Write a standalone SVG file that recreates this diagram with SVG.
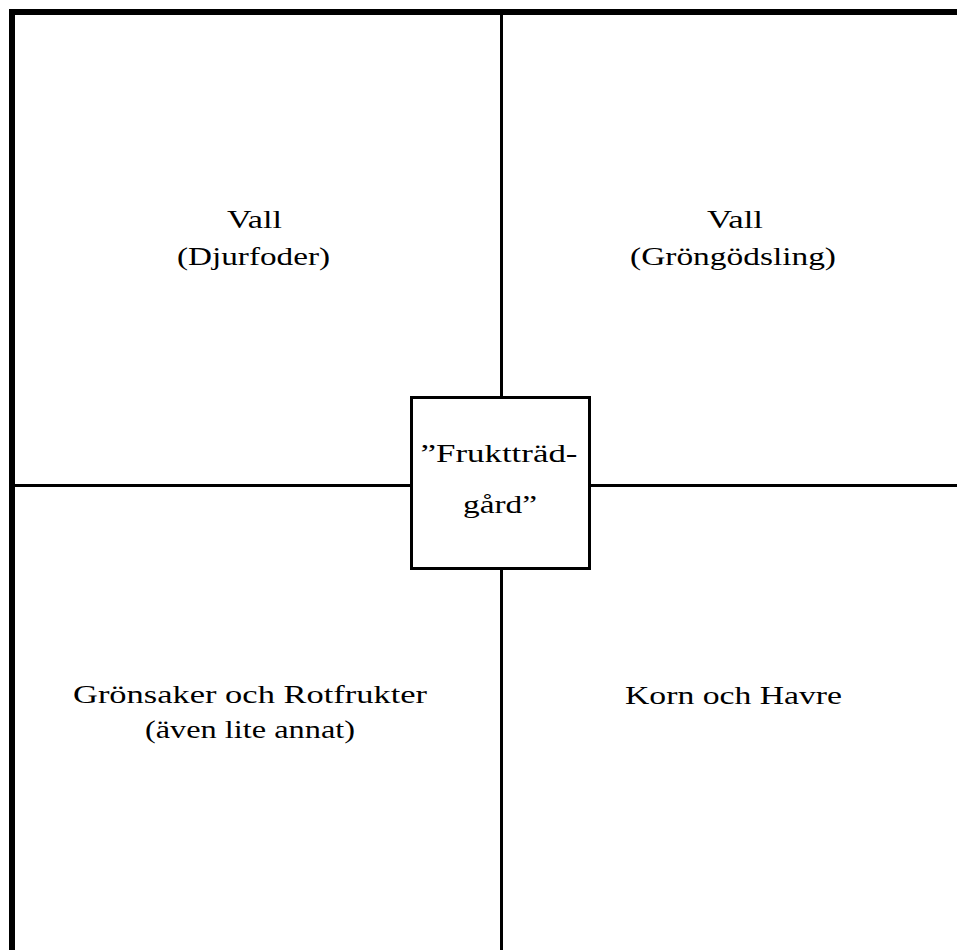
<svg xmlns="http://www.w3.org/2000/svg" width="957" height="950" viewBox="0 0 957 950">
<style>
.t{font-family:"Liberation Serif","Times New Roman",serif;font-size:25px;fill:#000;text-anchor:middle}
.ln{stroke:#000;stroke-width:3;fill:none}
.bd{stroke:#000;stroke-width:6;fill:none}
</style>
<rect width="957" height="950" fill="#fff"/>
<g id="connectors">
<path class="bd" d="M12,950 V12 H957"/>
<path class="ln" d="M501.5,15 V397.5 M501.5,568.5 V950"/>
<path class="ln" d="M15,485.5 H411.5 M589.5,485.5 H957"/>
</g>
<g id="center">
<rect class="ln" x="411.5" y="397.5" width="178" height="171" fill="#fff"/>
<text class="t" x="499" y="462" textLength="157" lengthAdjust="spacingAndGlyphs">”Fruktträd-</text>
<text class="t" x="500" y="513" textLength="74" lengthAdjust="spacingAndGlyphs">gård”</text>
</g>
<g id="topleft">
<text class="t" x="254.5" y="228" textLength="55" lengthAdjust="spacingAndGlyphs">Vall</text>
<text class="t" x="253.5" y="265" textLength="153" lengthAdjust="spacingAndGlyphs">(Djurfoder)</text>
</g>
<g id="topright">
<text class="t" x="735" y="228" textLength="56" lengthAdjust="spacingAndGlyphs">Vall</text>
<text class="t" x="733" y="265" textLength="206" lengthAdjust="spacingAndGlyphs">(Gröngödsling)</text>
</g>
<g id="bottomleft">
<text class="t" x="250" y="703" textLength="354" lengthAdjust="spacingAndGlyphs">Grönsaker och Rotfrukter</text>
<text class="t" x="250" y="738" textLength="210" lengthAdjust="spacingAndGlyphs">(även lite annat)</text>
</g>
<g id="bottomright">
<text class="t" x="733.5" y="704" textLength="217" lengthAdjust="spacingAndGlyphs">Korn och Havre</text>
</g>
</svg>
